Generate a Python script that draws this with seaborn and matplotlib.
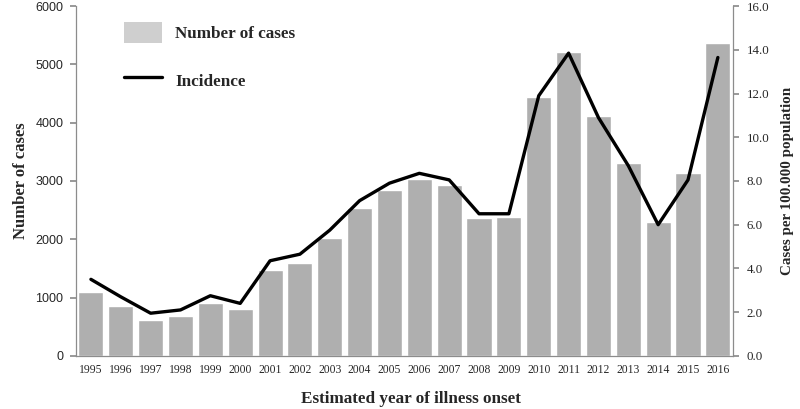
import matplotlib

matplotlib.use("Agg")

import matplotlib.pyplot as plt
import numpy as np
import pandas as pd
import seaborn as sns
from matplotlib.lines import Line2D
from matplotlib.patches import Patch

YEARS = [str(y) for y in range(1995, 2017)]
CASES = [1090, 850, 610, 690, 910, 810, 1480, 1600, 2030, 2530, 2840, 3040,
         2930, 2370, 2390, 4440, 5210, 4120, 3300, 2290, 3130, 5370]
INCIDENCE = [3.5, 2.7, 1.95, 2.1, 2.75, 2.4, 4.35, 4.65, 5.75, 7.1, 7.9, 8.35,
             8.05, 6.5, 6.5, 11.9, 13.85, 10.9, 8.7, 6.0, 8.05, 13.65]

BAR_COLOR = "#afafaf"
LEGEND_PATCH = "#cfcfcf"
SPINE_COLOR = "#8c8c8c"


def setup_style() -> None:
    sns.set_theme(style="white")
    plt.rcParams["font.family"] = ["Liberation Serif", "DejaVu Serif"]


def main() -> int:
    setup_style()
    data = pd.DataFrame({"year": YEARS, "cases": CASES, "incidence": INCIDENCE,
                         "pos": np.arange(len(YEARS))})

    fig = plt.figure(figsize=(8, 4.09), dpi=100)
    ax = fig.add_axes([0.095, 0.13, 0.821, 0.855])
    sns.barplot(data=data, x="year", y="cases", color=BAR_COLOR, saturation=1,
                width=0.84, ax=ax)
    ax.set_xlim(-0.5, len(YEARS) - 0.5)
    ax.set_ylim(0, 6000)
    ax.set_yticks(range(0, 6001, 1000))
    for lbl in ax.get_yticklabels():
        lbl.set_family(["Liberation Sans", "DejaVu Sans"])
        lbl.set_fontsize(9)

    ax2 = ax.twinx()
    sns.lineplot(data=data, x="pos", y="incidence", color="black", linewidth=2.4, ax=ax2)
    ax2.set_ylim(0, 16)
    ax2.set_yticks(np.arange(0, 16.1, 2))
    ax2.set_yticklabels([f"{v:.1f}" for v in np.arange(0, 16.1, 2)], fontsize=9.3)
    ax2.set_xlim(-0.5, len(YEARS) - 0.5)

    # x ticks sit between the bars
    ax.set_xticks(np.arange(len(YEARS)))
    ax.set_xticklabels(YEARS, fontsize=8.4)
    ax.set_xticks(np.arange(-0.5, len(YEARS)), minor=True)
    ax.tick_params(axis="x", which="major", length=0, pad=6)
    ax.tick_params(axis="x", which="minor", length=4, color=SPINE_COLOR, direction="out")
    ax.tick_params(axis="y", length=4, color=SPINE_COLOR, direction="out", left=True, pad=5)
    ax2.tick_params(axis="y", length=4, color=SPINE_COLOR, direction="out", right=True, pad=6)

    for a in (ax, ax2):
        a.spines["top"].set_visible(False)
        for s in ("left", "right", "bottom"):
            a.spines[s].set_color(SPINE_COLOR)
            a.spines[s].set_linewidth(0.9)
    ax.spines["right"].set_visible(False)
    ax2.spines["left"].set_visible(False)
    ax2.spines["bottom"].set_visible(False)

    ax.set_xlabel("Estimated year of illness onset", fontsize=12.3, fontweight="bold")
    ax.xaxis.set_label_coords(0.51, -0.1)
    ax.set_ylabel("Number of cases", fontsize=12, fontweight="bold", labelpad=5)
    ax2.set_ylabel("Cases per 100.000 population", fontsize=10.8, fontweight="bold", labelpad=8)

    handles = [Patch(facecolor=LEGEND_PATCH, edgecolor="none"),
               Line2D([0], [0], color="black", linewidth=2.4)]
    ax2.legend(handles, ["Number of cases", "Incidence"], loc="upper left",
               bbox_to_anchor=(0.05, 1.0), frameon=False,
               prop={"weight": "bold", "size": 12.3}, handlelength=2.2,
               handleheight=1.6, labelspacing=1.5, handletextpad=0.8)

    fig.savefig("out.png", dpi=100)
    plt.close(fig)
    return 0


if __name__ == "__main__":
    raise SystemExit(main())
